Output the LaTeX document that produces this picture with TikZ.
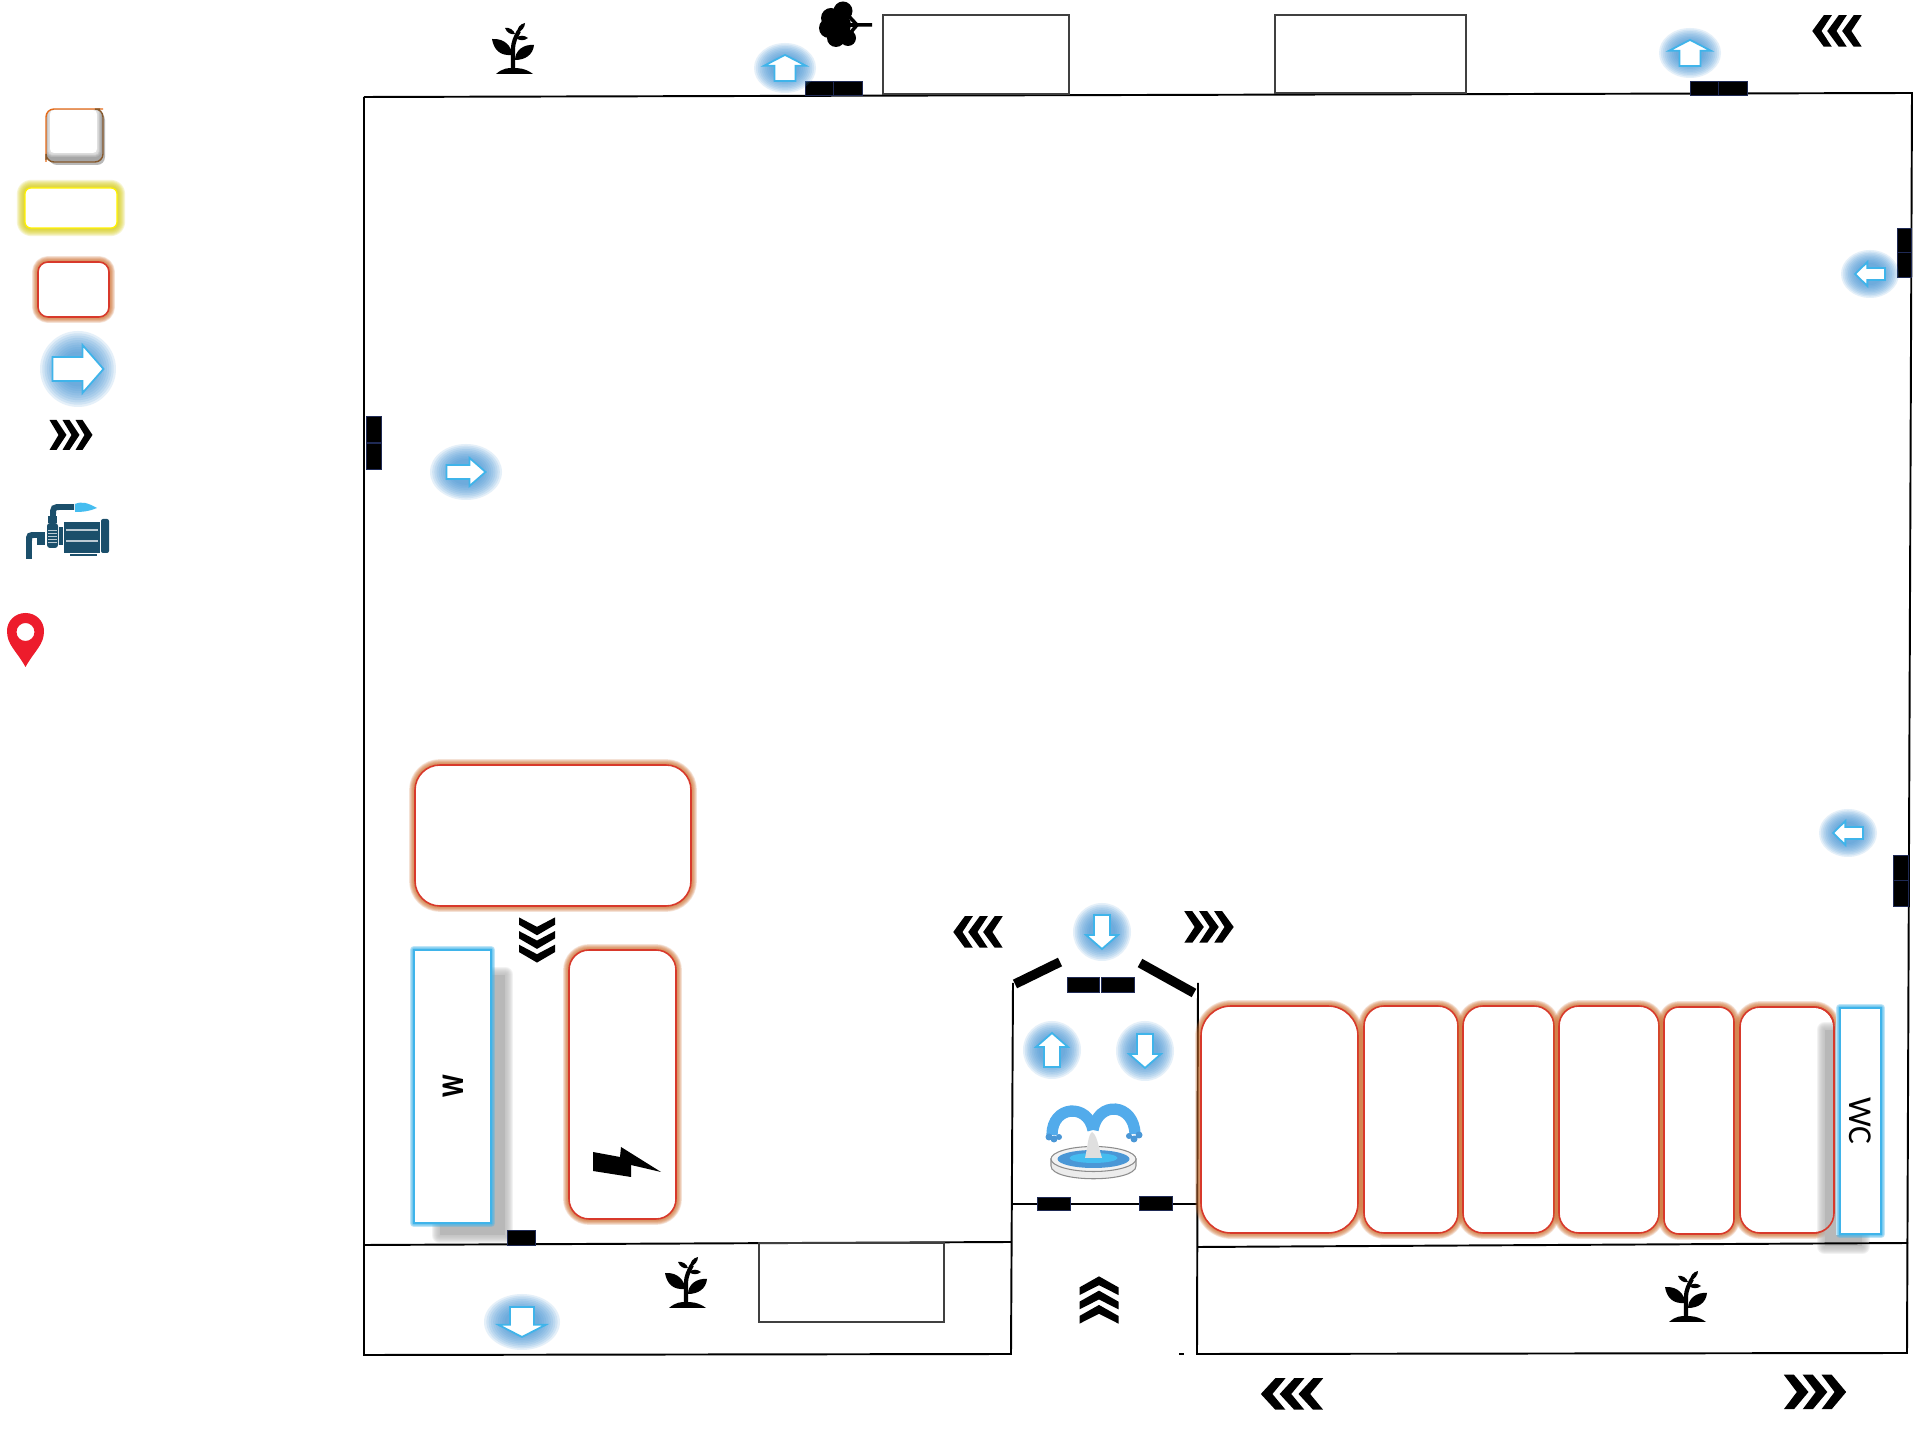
\documentclass[tikz,border=0pt]{standalone}
\usepackage{fontspec}
\setmainfont{Carlito}
\definecolor{arrowblue}{HTML}{3FB4EA}
\definecolor{glowblue}{HTML}{4A97D6}
\definecolor{roomred}{HTML}{D8392B}
\definecolor{roomglow}{HTML}{CF7030}
\definecolor{doorblue}{HTML}{1F2A55}
\definecolor{pumpblue}{HTML}{1B4F6B}
\definecolor{waterblue}{HTML}{45BDF0}
\definecolor{pinred}{HTML}{ED1C2C}
\definecolor{fountainblue}{HTML}{52ABEB}
\newcommand{\halo}[3]{\foreach \k in {1,...,8}{\draw[#1,line width=\k*#2,opacity=.18,line join=round] #3;}}
\newcommand{\glowarrow}[5]{
    \begin{scope}[shift={(#1)},rotate=#2]
        \foreach \k in {1,...,10}
            \fill[glowblue,opacity=.14] (0,0) ellipse[x radius=#4*(.4+.06*\k),y radius=#5*(.4+.06*\k)];
        \filldraw[#3,fill=white,draw=arrowblue,line width=.5pt] (-8,17) -- (-8,-3) -- (-16,-3) -- (0,-17) -- (16,-3) -- (8,-3) -- (8,17) -- cycle;
    \end{scope}
}
\newcommand{\chevrons}[3]{
    \begin{scope}[shift={(#1)},rotate=#2,#3]
        \foreach \c in {-21.5,-8.5,4.5}
            \fill[black] (\c,-15) -- ++(7,0) -- ++(10,15) -- ++(-10,15) -- ++(-7,0) -- ++(9,-15) -- cycle;
    \end{scope}
}
\newcommand{\redroom}[3]{
    \halo{roomglow,rounded corners=#3}{.42pt}{(#1) rectangle (#2)}
    \filldraw[fill=white,draw=roomred,line width=.45pt,rounded corners=#3] (#1) rectangle (#2);
}
\newcommand{\plant}[1]{
    \begin{scope}[shift={(#1)}]
        \fill[black] (-17,25) .. controls (-10,19) and (-5,19) .. (0,19) .. controls (5,19) and (12,19) .. (20,25) -- cycle;
        \draw[black,line width=1.2pt] (0,22) -- (0,1) .. controls (0,-8) and (3,-12) .. (6,-18);
        \fill[black] (-21,-10) .. controls (-8,-11) and (-1,-2) .. (-1,6) .. controls (-13,7) and (-19,1) .. (-21,-10) -- cycle;
        \fill[black] (21,-4) .. controls (10,-5) and (2,2) .. (2,11) .. controls (12,11) and (20,6) .. (21,-4) -- cycle;
        \fill[black] (-8,-21) .. controls (-4,-22) and (1,-19) .. (2,-15) .. controls (-2,-14) and (-6,-16) .. (-8,-21) -- cycle;
        \fill[black] (12,-26) .. controls (12,-22) and (9,-18) .. (4,-16) .. controls (4,-21) and (7,-25) .. (12,-26) -- cycle;
        \fill[black] (15,-11) .. controls (11,-14) and (7,-14) .. (3,-11) .. controls (7,-8) and (11,-8) .. (15,-11) -- cycle;
    \end{scope}
}
\tikzset{
    wall/.style={draw=black,line width=.55pt},
    thinbox/.style={draw=black!75,line width=.3pt},
    doorbar/.style={fill=black,draw=doorblue,line width=.25pt},
    pumppart/.style={fill=pumpblue},
    pumpline/.style={draw=white!70!pumpblue,line width=.5pt},
    softshadow/.style={fill=black!28}
}

\begin{document}
\begin{tikzpicture}[x=.01cm,y=-.01cm]
    \useasboundingbox (0,0) rectangle (1920,1440);
    \fill[white] (0,0) rectangle (1920,1440);

    \draw[wall] (364,97) -- (1912,93) -- (1907,1353) -- (1197,1354) -- (1198,983);
    \draw[wall] (1013,983) -- (1011,1354) -- (364,1355) -- (364,97);
    \draw[wall] (364,1245) -- (1011,1242);
    \draw[wall] (1013,1204) -- (1198,1204);
    \draw[wall] (1179,1354) -- (1184,1354);
    \draw[thinbox] (883,15) rectangle (1069,94);
    \draw[thinbox] (1275,15) rectangle (1466,93);
    \draw[thinbox] (759,1243) rectangle (944,1322);

    \foreach \a/\b in {805/833,833/862,1690/1718,1718/1747}
        \filldraw[doorbar] (\a,81) rectangle (\b,95);
    \foreach \a/\b in {228/252,252/277}
        \filldraw[doorbar] (1897,\a) rectangle (1911,\b);
    \foreach \a/\b in {416/442,443/469}
        \filldraw[doorbar] (366,\a) rectangle (381,\b);
    \foreach \a/\b in {855/880,880/906}
        \filldraw[doorbar] (1893,\a) rectangle (1908,\b);
    \foreach \a/\b in {1067/1099,1101/1134}
        \filldraw[doorbar] (\a,977) rectangle (\b,992);
    \filldraw[doorbar] (1037,1197) rectangle (1070,1210);
    \filldraw[doorbar] (1139,1196) rectangle (1172,1210);
    \draw[black,line width=2.7pt] (1015,984) -- (1060,962);
    \draw[black,line width=2.7pt] (1140,963) -- (1194,993);

    \redroom{415,765}{691,906}{.25cm}

    \fill[softshadow] (440,975) rectangle (505,1235);
    \halo{black!28}{.6pt}{(440,975) rectangle (505,1235)}
    \filldraw[doorbar] (507,1230) rectangle (535,1245);
    \halo{arrowblue}{.3pt}{(414,950) rectangle (491,1223)}
    \filldraw[fill=white,draw=arrowblue,line width=.6pt] (414,950) rectangle (491,1223);
    \node[rotate=90,font=\fontsize{12}{12}\selectfont\bfseries] (wlabel) at (453,1086) {\scalebox{.72}[1]{w}};

    \redroom{569,950}{676,1219}{.2cm}
    \fill[black] (593,1152) -- (620,1157) -- (621,1147) -- (661,1172) -- (631,1165) -- (631,1177) -- (593,1171) -- cycle;

    \redroom{1201,1006}{1358,1233}{.3cm}
    \redroom{1364,1006}{1458,1233}{.2cm}
    \redroom{1463,1006}{1554,1233}{.2cm}
    \redroom{1559,1006}{1659,1233}{.2cm}
    \redroom{1664,1007}{1734,1234}{.15cm}
    \redroom{1740,1007}{1834,1233}{.2cm}

    \fill[softshadow] (1825,1030) rectangle (1862,1246);
    \halo{black!28}{.6pt}{(1825,1030) rectangle (1862,1246)}
    \fill[white] (1836,1004) rectangle (1840,1235);
    \draw[wall] (1197,1247) -- (1908,1243);
    \draw[roomred,line width=.45pt,rounded corners=.2cm] (1780,1007) -- (1834,1007) -- (1834,1233) -- (1780,1233);
    \halo{arrowblue}{.3pt}{(1840,1008) rectangle (1881,1234)}
    \filldraw[fill=white,draw=arrowblue,line width=.6pt] (1840,1008) rectangle (1881,1234);
    \node[rotate=-90,font=\fontsize{9.5}{10}\selectfont] (wclabel) at (1860,1121) {WC};

    \glowarrow{785,68}{0}{xscale=1.3,yscale=.77}{31}{25}
    \glowarrow{1690,53}{0}{xscale=1.3,yscale=.77}{31}{25}
    \glowarrow{1870,274}{90}{xscale=.75,yscale=.88}{24}{29}
    \glowarrow{466,472}{-90}{xscale=.88,yscale=1.15}{28}{36}
    \glowarrow{1848,833}{90}{xscale=.75,yscale=.88}{24}{29}
    \glowarrow{522,1322}{180}{xscale=1.5,yscale=.88}{38}{28}
    \glowarrow{1102,932}{180}{}{29}{29}
    \glowarrow{1052,1050}{0}{}{29}{29}
    \glowarrow{1145,1051}{180}{}{29}{30}

    \chevrons{1837,31}{180}{xscale=1.15,yscale=1.05}
    \chevrons{978,932}{180}{xscale=1.15,yscale=1.05}
    \chevrons{1209,927}{0}{xscale=1.15,yscale=1.05}
    \chevrons{1292,1394}{180}{xscale=1.45,yscale=1.05}
    \chevrons{1815,1392}{0}{xscale=1.45,yscale=1.15}
    \chevrons{1099,1300}{90}{xscale=1.1,yscale=1.3}
    \chevrons{537,940}{-90}{xscale=1.05,yscale=1.2}
    \chevrons{71,435}{0}{}

    \plant{513,49}
    \plant{686,1283}
    \plant{1686,1297}

    \draw[black,line width=1pt] (872,25) -- (857,25) -- (845,12);
    \draw[black,line width=1pt] (857,25) -- (846,38);
    \draw[black,line width=1pt] (857,25) -- (846,25);
    \fill[black] (843,11) circle[radius=9.5] (831,18) circle[radius=10] (829,28) circle[radius=10] (836,38) circle[radius=9] (848,38) circle[radius=8] (839,25) circle[radius=12];

    \draw[line width=3.2pt,color=fountainblue] (1052,1135) .. controls (1052,1105) and (1088,1103) .. (1093,1130);
    \draw[line width=3.2pt,color=fountainblue] (1093,1130) .. controls (1098,1100) and (1134,1103) .. (1135,1134);
    \fill[glowblue] (1049,1137) circle[radius=3.5] (1054,1139) circle[radius=3.5] (1059,1137) circle[radius=3];
    \fill[glowblue] (1129,1136) circle[radius=3] (1134,1139) circle[radius=3.5] (1139,1135) circle[radius=3.5];
    \filldraw[fill=gray!15,draw=gray!90,line width=.3pt] (1051,1159) -- (1051,1166) .. controls (1051,1183) and (1136,1183) .. (1136,1166) -- (1136,1159) -- cycle;
    \filldraw[fill=gray!10,draw=gray!90,line width=.3pt] (1093.5,1159) ellipse[x radius=42.5,y radius=12.5];
    \fill[glowblue] (1093.5,1159) ellipse[x radius=36,y radius=9];
    \fill[waterblue] (1093.5,1158) ellipse[x radius=24,y radius=5];
    \fill[gray!25] (1085,1158) .. controls (1088,1145) and (1088,1135) .. (1092,1132) .. controls (1097,1135) and (1098,1145) .. (1102,1158) -- cycle;

    \fill[gray!55,rounded corners=.08cm] (49,112) rectangle (105,165);
    \filldraw[fill=gray!70,draw=none,rounded corners=.08cm] (46,109) rectangle (103,162);
    \fill[white,rounded corners=.04cm] (50,110) rectangle (97,153);
    \halo{white}{.4pt}{(52,112) rectangle (95,151)}
    \draw[color=orange!80!red!80!gray,line width=.4pt,rounded corners=.08cm] (46,162) -- (46,109) -- (103,109);
    \draw[color=brown!70!black,line width=.4pt,rounded corners=.08cm] (46,160) -- (46,162) -- (103,162) -- (103,109) -- (100,109);

    \halo{yellow!60!olive!90!white,rounded corners=.06cm}{.58pt}{(25,188) rectangle (117,228)}
    \filldraw[fill=white,draw=yellow,line width=.35pt,rounded corners=.06cm] (25,188) rectangle (117,228);
    \redroom{38,262}{109,317}{.1cm}
    \glowarrow{78,369}{-90}{xscale=1.5,yscale=1.5}{38}{38}

    \draw[pumpblue,line width=1.7pt] (53,516) .. controls (53,507) .. (62,507) -- (74,507);
    \fill[waterblue] (75,504) .. controls (82,501) and (88,503) .. (97,508) .. controls (90,511) and (84,512) .. (75,512) -- cycle;
    \fill[pumppart] (48,516) rectangle (57,523);
    \fill[pumppart,rounded corners=.03cm] (47,523) rectangle (58,548);
    \foreach \p in {530,533,536,539,542}
        \draw[pumpline,line width=.2pt] (48,\p) -- (57,\p);
    \draw[pumpblue,line width=1.7pt] (29,559) -- (29,541) .. controls (29,535) .. (36,535) -- (40,535);
    \fill[pumppart] (37,532) rectangle (45,545);
    \fill[pumppart] (59,527) rectangle (63,545);
    \fill[pumppart] (64,522) rectangle (100,553);
    \draw[pumpline] (66,530) -- (98,530);
    \draw[pumpline] (66,541) -- (98,541);
    \fill[pumppart,rounded corners=.02cm] (101,519) rectangle (109,553);
    \fill[pumppart] (70,554) rectangle (97,556);

    \fill[pinred,even odd rule] (25.5,667) .. controls (16,650) and (7,645) .. (7,631) .. controls (7,621) and (15,613) .. (25.5,613) .. controls (36,613) and (44,621) .. (44,631) .. controls (44,645) and (35,650) .. (25.5,667) -- cycle (25.5,632) circle[radius=9];
\end{tikzpicture}
\end{document}
